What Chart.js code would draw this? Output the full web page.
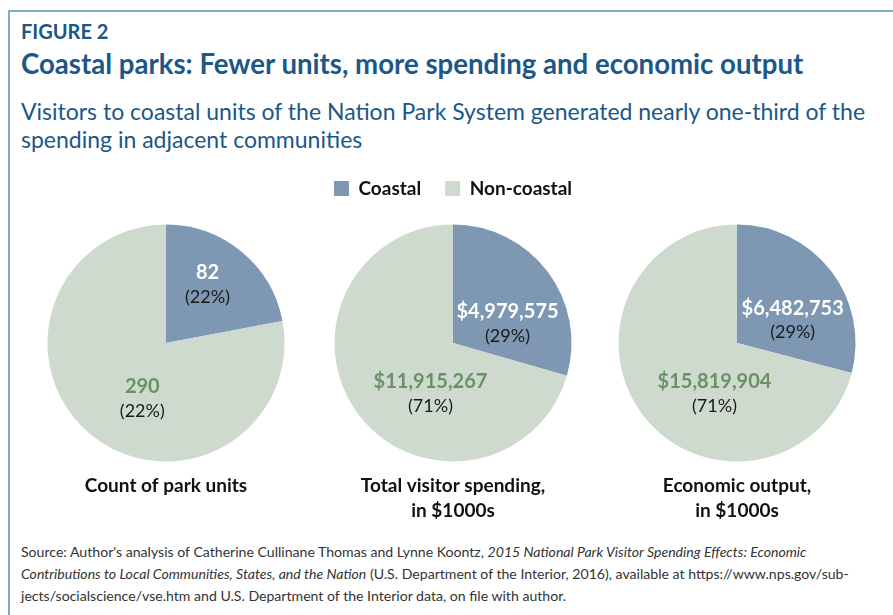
<!DOCTYPE html>
<html>
<head>
<meta charset="utf-8">
<script src="https://cdn.jsdelivr.net/npm/chart.js@4.4.1/dist/chart.umd.min.js"></script>
<style>
  body { margin: 0; background: #fff; font-family: Lato, sans-serif; }
  #page { position: relative; width: 893px; height: 615px; overflow: hidden; }
  #frame { position: absolute; left: 8px; top: 10px; width: 900px; height: 620px;
           border-top: 2px solid #80a9c3; border-left: 2px solid #80a9c3; }
  .txt { position: absolute; left: 21px; white-space: nowrap; }
  #fig { top: 21px; font-size: 20px; line-height: 20px; font-weight: bold; color: #1b5787; }
  #title { top: 50px; font-size: 27.6px; line-height: 27px; font-weight: bold; color: #1b5787; }
  #sub { top: 97px; font-size: 23px; line-height: 28px; color: #1b5787; }
  #source { top: 541px; font-size: 14.1px; line-height: 22px; color: #333; }
  canvas { position: absolute; }
</style>
</head>
<body>
<div id="page">
  <div id="frame"></div>
  <div class="txt" id="fig">FIGURE 2</div>
  <div class="txt" id="title">Coastal parks: Fewer units, more spending and economic output</div>
  <div class="txt" id="sub">Visitors to coastal units of the Nation Park System generated nearly one-third of the<br>spending in adjacent communities</div>
  <div class="txt" id="source">Source: Author's analysis of Catherine Cullinane Thomas and Lynne Koontz, <i>2015 National Park Visitor Spending Effects: Economic</i><br><i>Contributions to Local Communities, States, and the Nation</i> (U.S. Department of the Interior, 2016), available at https://www.nps.gov/sub-<br>jects/socialscience/vse.htm and U.S. Department of the Interior data, on file with author.</div>
  <canvas id="pie1" width="300" height="380" style="left:16px;top:155px"></canvas>
  <canvas id="pie2" width="340" height="380" style="left:283px;top:155px"></canvas>
  <canvas id="pie3" width="300" height="380" style="left:587px;top:155px"></canvas>
</div>
<script>
// data
const seriesNames = ['Coastal', 'Non-coastal'];
const parkUnits = [82, 290];
const visitorSpending = [4979575, 11915267];      // $1000s
const economicOutput = [6482753, 15819904];       // $1000s
const shareLabels = [['22%', '22%'], ['29%', '71%'], ['29%', '71%']];   // as printed
const panelTitles = [['Count of park units'], ['Total visitor spending,', 'in $1000s'], ['Economic output,', 'in $1000s']];

// where each slice label sits, as a fraction of the radius from the pie centre
const labelSpots = [
  [[0.35, -0.49], [-0.20, 0.47]],
  [[0.46, -0.16], [-0.19, 0.43]],
  [[0.47, -0.19], [-0.19, 0.43]]
];

const coastalColor = '#7e98b3';
const nonCoastalColor = '#cedacd';
const valueColors = ['#ffffff', '#6a9166'];

function fmtCount(v) { return v.toLocaleString('en-US'); }
function fmtMoney(v) { return '$' + v.toLocaleString('en-US'); }

// draws the value and share inside each slice
const sliceLabels = {
  id: 'sliceLabels',
  afterDatasetsDraw(chart, args, opts) {
    const ctx = chart.ctx;
    const meta = chart.getDatasetMeta(0);
    const values = chart.data.datasets[0].data;
    ctx.save();
    ctx.textAlign = 'center';
    ctx.textBaseline = 'middle';
    meta.data.forEach((arc, i) => {
      const p = arc.getProps(['x', 'y', 'outerRadius'], true);
      const x = p.x + opts.spots[i][0] * p.outerRadius;
      const y = p.y + opts.spots[i][1] * p.outerRadius;
      ctx.font = 'bold 20px Lato';
      ctx.fillStyle = valueColors[i];
      ctx.fillText(opts.format(values[i]), x, y - 12);
      ctx.font = '18px Lato';
      ctx.fillStyle = '#1a1a1a';
      ctx.fillText('(' + opts.shares[i] + ')', x, y + 12);
    });
    ctx.restore();
  }
};

function makePie(id, values, idx, format, showLegend) {
  const twoLines = panelTitles[idx].length > 1;
  return new Chart(document.getElementById(id), {
    type: 'pie',
    data: {
      labels: seriesNames,
      datasets: [{
        data: values,
        backgroundColor: [coastalColor, nonCoastalColor],
        borderWidth: 0,
        radius: 118.5
      }]
    },
    options: {
      responsive: false,
      animation: false,
      events: [],
      layout: { padding: { top: showLegend ? 0 : 53 } },
      plugins: {
        legend: {
          display: showLegend,
          position: 'top',
          labels: {
            boxWidth: 15, boxHeight: 15, padding: 24,
            color: '#111',
            font: { family: 'Lato', size: 19, weight: 'bold' }
          }
        },
        title: {
          display: true,
          position: 'bottom',
          text: panelTitles[idx],
          color: '#111',
          font: { family: 'Lato', size: 19, weight: 'bold', lineHeight: 25 / 19 },
          padding: { top: -5, bottom: twoLines ? 12 : 37 }
        },
        tooltip: { enabled: false },
        sliceLabels: { spots: labelSpots[idx], shares: shareLabels[idx], format: format }
      }
    },
    plugins: [sliceLabels]
  });
}

makePie('pie1', parkUnits, 0, fmtCount, false);
makePie('pie2', visitorSpending, 1, fmtMoney, true);
makePie('pie3', economicOutput, 2, fmtMoney, false);
</script>
</body>
</html>
